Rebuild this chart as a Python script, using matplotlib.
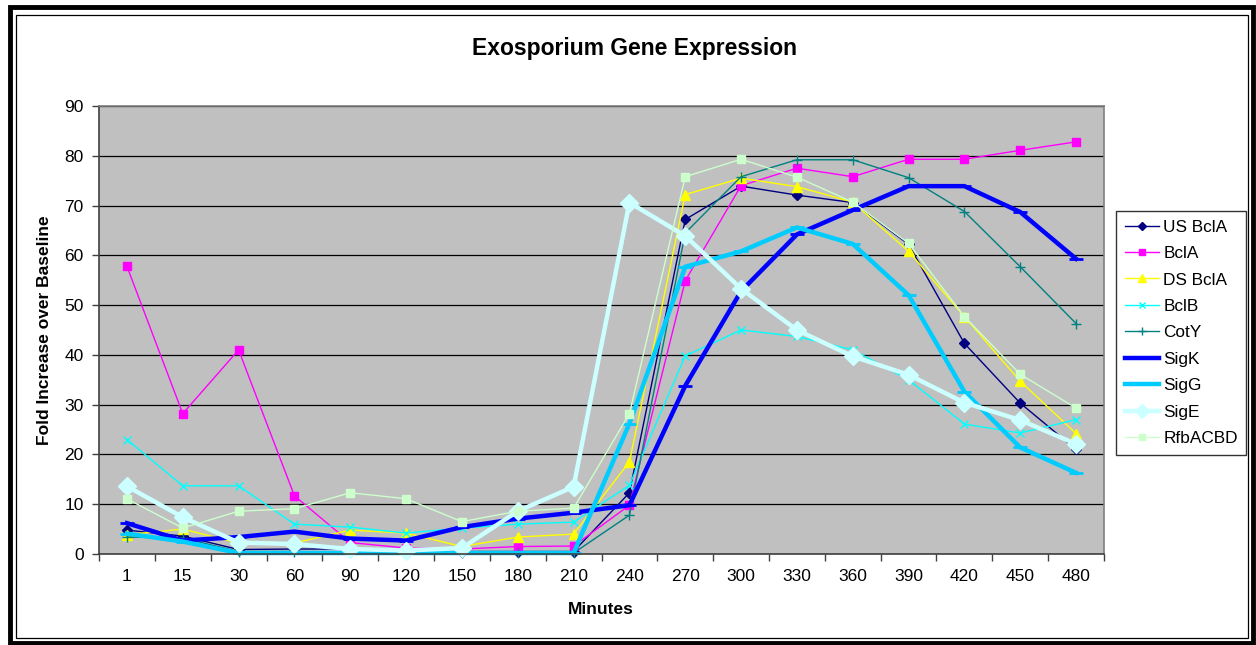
import matplotlib
matplotlib.use("Agg")
import matplotlib.pyplot as plt
from matplotlib.patches import Rectangle

plt.rcParams['font.family'] = ['Liberation Sans', 'DejaVu Sans']

minutes = ["1", "15", "30", "60", "90", "120", "150", "180", "210", "240",
           "270", "300", "330", "360", "390", "420", "450", "480"]

us_bcla = [4.8, 3.6, 0.9, 1.0, 1.0, 0.6, 0.5, 0.5, 0.5, 12.3,
           67.2, 73.9, 72.1, 70.6, 62.2, 42.3, 30.3, 21.0]
bcla = [57.8, 28.2, 41.0, 11.7, 2.3, 1.2, 1.0, 1.5, 1.6, 9.8,
        54.9, 74.0, 77.5, 75.8, 79.3, 79.3, 81.1, 82.8]
ds_bcla = [3.9, 5.0, 2.2, 2.2, 4.8, 4.2, 1.5, 3.4, 4.0, 18.5,
           72.2, 75.5, 73.8, 70.7, 60.8, 47.7, 34.7, 24.2]
bclb = [23.0, 13.7, 13.7, 6.0, 5.4, 4.2, 5.2, 6.0, 6.4, 13.8,
        39.8, 45.0, 43.7, 41.0, 35.0, 26.1, 24.3, 27.0]
coty = [3.4, 3.2, 0.5, 0.5, 0.3, 0.2, 0.2, 0.2, 0.2, 7.8,
        64.5, 75.8, 79.2, 79.2, 75.6, 68.8, 57.7, 46.3]
sigk = [6.2, 2.7, 3.4, 4.5, 3.1, 2.7, 5.4, 7.1, 8.3, 9.8,
        33.8, 52.8, 64.2, 69.1, 73.9, 73.9, 68.7, 59.3]
sigg = [4.1, 2.5, 0.2, 0.2, 0.2, 0.2, 0.2, 0.2, 0.2, 26.2,
        57.7, 60.8, 65.6, 62.3, 52.0, 32.6, 21.4, 16.3]
sige = [13.6, 7.4, 2.3, 2.0, 1.0, 0.7, 1.2, 8.6, 13.5, 70.6,
        63.9, 53.3, 45.0, 39.7, 36.0, 30.4, 26.9, 22.1]
rfbacbd = [11.1, 5.2, 8.6, 9.1, 12.3, 11.1, 6.5, 8.6, 9.2, 28.2,
           75.8, 79.3, 75.7, 70.7, 62.4, 47.7, 36.1, 29.3]

series = [
    ("US BclA", us_bcla, dict(color="#000080", lw=1.0, marker="D", ms=5)),
    ("BclA", bcla, dict(color="#FF00FF", lw=1.0, marker="s", ms=5.5)),
    ("DS BclA", ds_bcla, dict(color="#FFFF00", lw=1.0, marker="^", ms=6.5)),
    ("BclB", bclb, dict(color="#00FFFF", lw=1.0, marker="x", ms=6, mew=1.0)),
    ("CotY", coty, dict(color="#008080", lw=1.0, marker="+", ms=7, mew=1.0)),
    ("SigK", sigk, dict(color="#0000FF", lw=3.2, marker="_", ms=10, mew=2)),
    ("SigG", sigg, dict(color="#00CCFF", lw=3.2, marker="_", ms=10, mew=2)),
    ("SigE", sige, dict(color="#CCFFFF", lw=3.2, marker="D", ms=9)),
    ("RfbACBD", rfbacbd, dict(color="#CCFFCC", lw=1.0, marker="s", ms=5.5)),
]

W, H = 1256, 645
fig = plt.figure(figsize=(W / 100, H / 100), dpi=100)
fig.patch.set_facecolor("white")

# chart borders
def frect(x0, y0, x1, y1, lw, color):
    fig.patches.append(Rectangle((x0 / W, 1 - y1 / H), (x1 - x0) / W, (y1 - y0) / H,
                                 transform=fig.transFigure, fill=False,
                                 linewidth=lw, edgecolor=color, zorder=0))

frect(9.5, 7, 1253, 643, 3.5, "black")
frect(16, 14.5, 1247.5, 638, 0.9, "black")

ax = fig.add_axes([99 / W, 1 - 554 / H, (1104 - 99) / W, (554 - 106) / H])
ax.set_facecolor("#C0C0C0")

x = list(range(len(minutes)))
for name, vals, st in series:
    ax.plot(x, vals, label=name, color=st["color"], linewidth=st["lw"],
            marker=st["marker"], markersize=st["ms"],
            markeredgewidth=st.get("mew", 1.0),
            markerfacecolor=st["color"], markeredgecolor=st["color"],
            clip_on=False, solid_joinstyle="miter")

ax.set_xlim(-0.5, len(minutes) - 0.5)
ax.set_ylim(0, 90)
ax.set_yticks(range(0, 91, 10))
ax.set_xticks(x)
ax.set_xticklabels(minutes)
ax.set_xticks([i - 0.5 for i in range(len(minutes) + 1)], minor=True)
ax.tick_params(axis="x", which="major", length=0, pad=11, labelsize=12.5)
ax.tick_params(axis="x", which="minor", length=5, width=1, color="#404040", direction="out")
ax.tick_params(axis="y", length=5, width=1, color="#404040", pad=6, labelsize=12.5)

ax.yaxis.grid(True, color="black", linewidth=0.9)
ax.set_axisbelow(True)
for side in ["top", "right"]:
    ax.spines[side].set_color("#808080")
    ax.spines[side].set_linewidth(1.2)
for side in ["left", "bottom"]:
    ax.spines[side].set_color("#404040")
    ax.spines[side].set_linewidth(1.2)

fig.text(634 / W, 1 - 48 / H, "Exosporium Gene Expression", ha="center", va="center",
         fontsize=16.5, fontweight="bold")
fig.text(45 / W, 1 - 330 / H, "Fold Increase over Baseline", ha="center", va="center",
         rotation=90, fontsize=12.5, fontweight="bold")
fig.text(601 / W, 1 - 609 / H, "Minutes", ha="center", va="center",
         fontsize=12.5, fontweight="bold")

leg = fig.legend(loc="upper left", bbox_to_anchor=(1116 / W, 1 - 211 / H),
                 bbox_transform=fig.transFigure, borderaxespad=0,
                 frameon=True, fancybox=False, fontsize=12.4,
                 labelspacing=0.66, handlelength=2.0, handletextpad=0.25,
                 borderpad=0.5, markerscale=0.8)
leg.get_frame().set_edgecolor("black")
leg.get_frame().set_linewidth(1.0)

fig.savefig("out.png", dpi=100, facecolor="white")
